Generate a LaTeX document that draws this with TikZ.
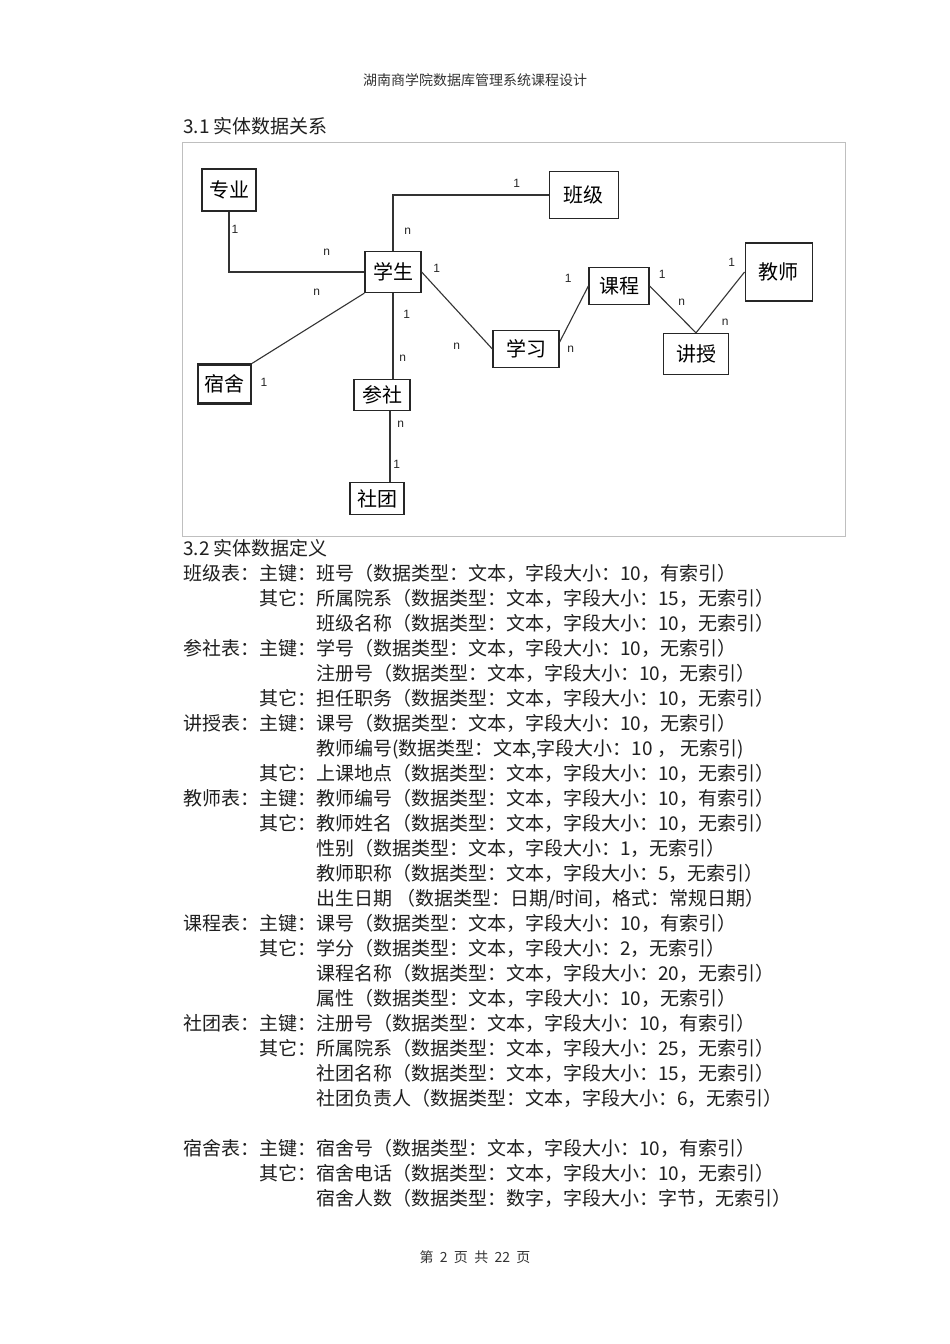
\documentclass[tikz,border=0pt]{standalone}
\usepackage{fontspec}
\newfontfamily\cjk{Noto Sans CJK SC}
\newfontfamily\lab{Liberation Sans}
\newcommand\cola[1]{\makebox[4em][l]{#1}}
\newcommand\colb[1]{\makebox[3em][l]{#1}}
\newcommand\tline[3]{\node[txt] (#1) at (183,#2) {#3};}
\begin{document}
\begin{tikzpicture}[x=1pt,y=-1pt,
  ent/.style={draw=black!85, line width=1.3pt, fill=white, inner sep=0pt, font=\cjk\fontsize{20}{24}\selectfont},
  conn/.style={draw=black!80, line width=1.1pt},
  card/.style={inner sep=0pt, font=\lab\fontsize{12}{13}\selectfont, text=black!85},
  txt/.style={anchor=base west, inner sep=0pt, font=\cjk\fontsize{19}{19}\selectfont, text=black!88},
  small/.style={inner sep=0pt, font=\cjk\fontsize{14}{14}\selectfont, text=black!80}]
\useasboundingbox (0,0) rectangle (950,1344);
\fill[white] (0,0) rectangle (950,1344);

% header
\node[small] (hdr) at (475,80) {湖南商学院数据库管理系统课程设计};
\node[txt] (s31) at (183,133) {3.1 实体数据关系};

% frame
\draw[black!25, line width=1pt] (182,142) rectangle (845,536);

% entities
\node[ent, minimum width=54pt, minimum height=42pt] (zy) at (229,190) {专业};
\node[ent, minimum width=69pt, minimum height=47pt] (bj) at (583.7,195) {班级};
\node[ent, minimum width=56pt, minimum height=41pt] (xs) at (393,272) {学生};
\node[ent, minimum width=60pt, minimum height=37pt] (kc) at (619,286) {课程};
\node[ent, minimum width=67pt, minimum height=58pt] (js) at (778.7,272) {教师};
\node[ent, minimum width=66pt, minimum height=37pt] (xx) at (526,349) {学习};
\node[ent, minimum width=65pt, minimum height=41pt] (jsh) at (696,354) {讲授};
\node[ent, line width=2.4pt, minimum width=53pt, minimum height=39pt] (ss) at (224.5,384) {宿舍};
\node[ent, minimum width=56pt, minimum height=31pt] (cs) at (382,395) {参社};
\node[ent, minimum width=54pt, minimum height=32pt] (st) at (377,498.5) {社团};

% connectors
\draw[conn] (zy.south) -- (zy.south |- xs.west) -- (xs.west);
\draw[conn] (xs.north) -- (xs.north |- bj.west) -- (bj.west);
\draw[conn] (xs.south) -- (xs.south |- cs.north);
\draw[conn] ([xshift=8pt]cs.south) -- ([xshift=8pt]cs.south |- st.north);
\draw[conn] (xs.south west) -- (ss.north east);
\draw[conn] (xs.east) -- (xx.west);
\draw[conn] ([yshift=7pt]xx.east) -- (kc.west);
\draw[conn] (kc.east) -- (jsh.north);
\draw[conn] (jsh.north) -- (js.west);

% cardinalities
\node[card] (c1) at (235,229) {1};
\node[card] (c2) at (326.7,252.7) {n};
\node[card] (c3) at (407.7,231.7) {n};
\node[card] (c4) at (516.7,183.3) {1};
\node[card] (c5) at (436.7,268.3) {1};
\node[card] (c6) at (316.7,292.3) {n};
\node[card] (c7) at (406.7,314) {1};
\node[card] (c8) at (456.7,346) {n};
\node[card] (c9) at (402.7,358.3) {n};
\node[card] (c10) at (264,382.3) {1};
\node[card] (c11) at (400.7,424.3) {n};
\node[card] (c12) at (396.7,464) {1};
\node[card] (c13) at (568.3,278.3) {1};
\node[card] (c14) at (570.7,349.3) {n};
\node[card] (c15) at (662.3,274.3) {1};
\node[card] (c16) at (681.7,302.3) {n};
\node[card] (c17) at (731.7,262.7) {1};
\node[card] (c18) at (725.3,322.7) {n};

% text section
\tline{s32}{555}{3.2 实体数据定义}
\tline{l1}{580}{\cola{班级表：}\colb{主键：}班号（数据类型：文本，字段大小：10，有索引）}
\tline{l2}{605}{\cola{}\colb{其它：}所属院系（数据类型：文本，字段大小：15，无索引）}
\tline{l3}{630}{\cola{}\colb{}班级名称（数据类型：文本，字段大小：10，无索引）}
\tline{l4}{655}{\cola{参社表：}\colb{主键：}学号（数据类型：文本，字段大小：10，无索引）}
\tline{l5}{680}{\cola{}\colb{}注册号（数据类型：文本，字段大小：10，无索引）}
\tline{l6}{705}{\cola{}\colb{其它：}担任职务（数据类型：文本，字段大小：10，无索引）}
\tline{l7}{730}{\cola{讲授表：}\colb{主键：}课号（数据类型：文本，字段大小：10，无索引）}
\tline{l8}{755}{\cola{}\colb{}教师编号(数据类型：文本,字段大小：10 ， 无索引)}
\tline{l9}{780}{\cola{}\colb{其它：}上课地点（数据类型：文本，字段大小：10，无索引）}
\tline{l10}{805}{\cola{教师表：}\colb{主键：}教师编号（数据类型：文本，字段大小：10，有索引）}
\tline{l11}{830}{\cola{}\colb{其它：}教师姓名（数据类型：文本，字段大小：10，无索引）}
\tline{l12}{855}{\cola{}\colb{}性别（数据类型：文本，字段大小：1，无索引）}
\tline{l13}{880}{\cola{}\colb{}教师职称（数据类型：文本，字段大小：5，无索引）}
\tline{l14}{905}{\cola{}\colb{}出生日期 （数据类型：日期/时间，格式：常规日期）}
\tline{l15}{930}{\cola{课程表：}\colb{主键：}课号（数据类型：文本，字段大小：10，有索引）}
\tline{l16}{955}{\cola{}\colb{其它：}学分（数据类型：文本，字段大小：2，无索引）}
\tline{l17}{980}{\cola{}\colb{}课程名称（数据类型：文本，字段大小：20，无索引）}
\tline{l18}{1005}{\cola{}\colb{}属性（数据类型：文本，字段大小：10，无索引）}
\tline{l19}{1030}{\cola{社团表：}\colb{主键：}注册号（数据类型：文本，字段大小：10，有索引）}
\tline{l20}{1055}{\cola{}\colb{其它：}所属院系（数据类型：文本，字段大小：25，无索引）}
\tline{l21}{1080}{\cola{}\colb{}社团名称（数据类型：文本，字段大小：15，无索引）}
\tline{l22}{1105}{\cola{}\colb{}社团负责人（数据类型：文本，字段大小：6，无索引）}
\tline{l23}{1155}{\cola{宿舍表：}\colb{主键：}宿舍号（数据类型：文本，字段大小：10，有索引）}
\tline{l24}{1180}{\cola{}\colb{其它：}宿舍电话（数据类型：文本，字段大小：10，无索引）}
\tline{l25}{1205}{\cola{}\colb{}宿舍人数（数据类型：数字，字段大小：字节，无索引）}

% footer
\node[small] (ftr) at (475,1257) {第\hspace{0.45em}2\hspace{0.45em}页\hspace{0.45em}共\hspace{0.45em}22\hspace{0.45em}页};
\end{tikzpicture}
\end{document}
